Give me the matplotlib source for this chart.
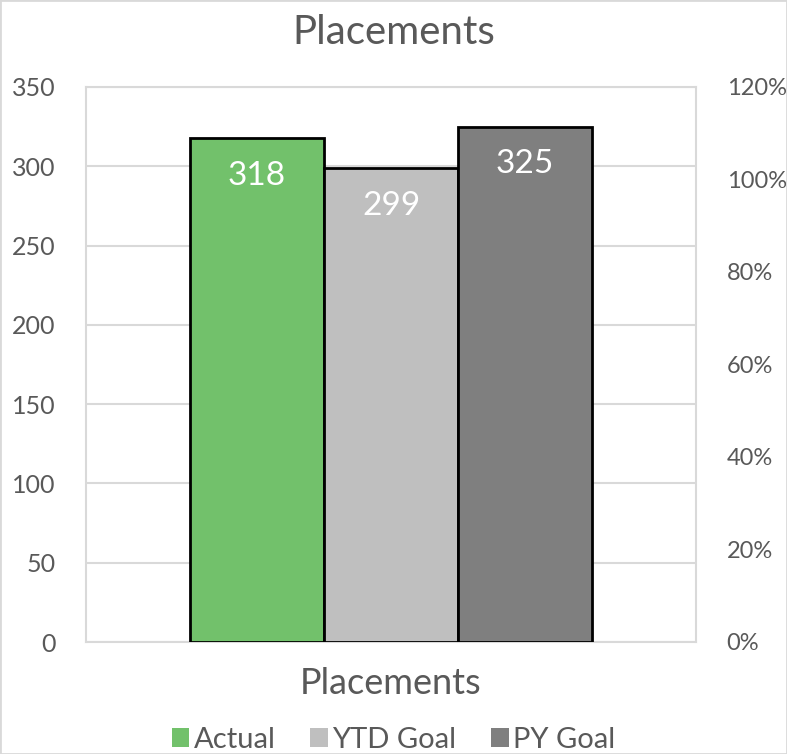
import matplotlib
matplotlib.use("Agg")
import matplotlib.pyplot as plt
from matplotlib.patches import Rectangle
from matplotlib.ticker import FuncFormatter

categories = ["Placements"]
series_names = ["Actual", "YTD Goal", "PY Goal"]
series_values = [318, 299, 325]
colors = ["#72C16B", "#BFBFBF", "#7F7F7F"]
left_ticks = [0, 50, 100, 150, 200, 250, 300, 350]
right_ticks = [0, 0.2, 0.4, 0.6, 0.8, 1.0, 1.2]

plt.rcParams['font.family'] = ['Lato', 'DejaVu Sans']
text_color = "#595959"

W, H = 787, 754
fig = plt.figure(figsize=(W/100, H/100), dpi=100)
fig.patch.set_facecolor("white")
fig.patches.append(Rectangle((0, 0), 1, 1, transform=fig.transFigure, fill=False,
                             edgecolor="#D9D9D9", linewidth=2))

l, r, t, b = 86, 696, 87, 642
ax = fig.add_axes([l/W, 1 - b/H, (r-l)/W, (b-t)/H])
ax.set_ylim(0, 350)
ax.set_xlim(-0.5, 0.5)
ax.set_yticks(left_ticks)
ax.grid(axis="y", color="#D9D9D9", linewidth=1.5)
ax.set_axisbelow(True)
for s in ax.spines.values():
    s.set_color("#D9D9D9")
    s.set_linewidth(1.5)
ax.tick_params(axis="y", length=0, labelsize=18, colors=text_color, pad=22)
ax.set_xticks([])

bw = 0.22
offsets = [-bw, 0, bw]
for i, (name, val, c) in enumerate(zip(series_names, series_values, colors)):
    bars = ax.bar(0 + offsets[i], val, width=bw, color=c, edgecolor="black",
                  linewidth=2, label=name, zorder=3)
    ax.bar_label(bars, labels=[str(val)], label_type="edge", padding=-38,
                 color="white", fontsize=24)

ax.set_xlabel(categories[0], fontsize=26, color=text_color, labelpad=18)

ax2 = ax.twinx()
ax2.set_ylim(0, 1.2)
ax2.set_yticks(right_ticks)
ax2.yaxis.set_major_formatter(FuncFormatter(lambda v, p: f"{v*100:.0f}%"))
ax2.tick_params(axis="y", length=0, labelsize=17, colors=text_color, pad=22)
for s in ax2.spines.values():
    s.set_visible(False)

fig.text(0.5, 1 - 33/H, "Placements", ha="center", va="center", fontsize=29, color=text_color)

handles, labels = ax.get_legend_handles_labels()
leg = fig.legend(handles, labels, loc="center", bbox_to_anchor=(0.5, 1 - 740/H), ncol=3,
                 frameon=False, fontsize=21, handlelength=0.6, handleheight=0.6,
                 handletextpad=0.15, columnspacing=1.2, labelcolor=text_color)
for h in leg.legend_handles:
    h.set_edgecolor("none")

fig.savefig("out.png", dpi=100)
